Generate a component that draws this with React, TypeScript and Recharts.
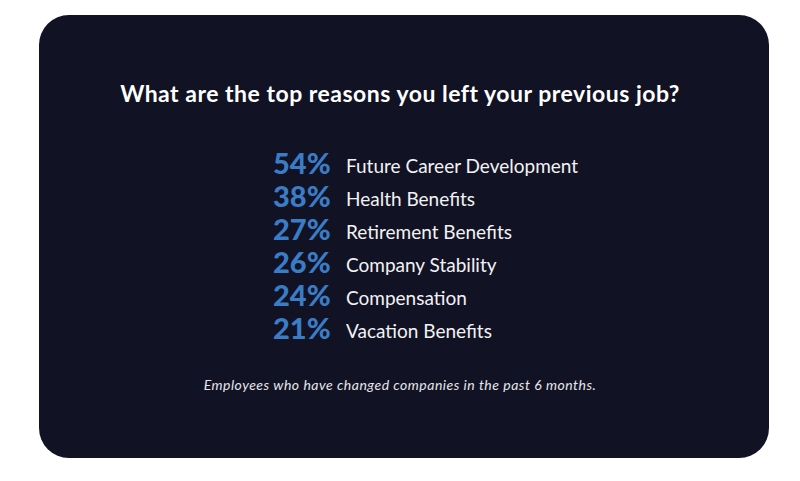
import { BarChart, Bar, XAxis, YAxis } from 'recharts';

const reasons = [
    'Future Career Development',
    'Health Benefits',
    'Retirement Benefits',
    'Company Stability',
    'Compensation',
    'Vacation Benefits',
];
const shares = [54, 38, 27, 26, 24, 21];

const data = reasons.map((name, i) => ({ name, value: shares[i] }));
const shareByName: Record<string, number> = Object.fromEntries(data.map(d => [d.name, d.value]));

const FONT = 'Lato, "Open Sans", sans-serif';

// Percentage + label drawn at the row the category axis places it on
function ReasonTick(props: any) {
    const { y, payload } = props;
    const pct = shareByName[payload.value];
    return (
        <g>
            <text x={273} y={y + 10} fill="#3a7cc6" fontFamily={FONT} fontWeight={900} fontSize={29}>
                {pct}%
            </text>
            <text x={346} y={y + 8.5} fill="#f2f2f4" fontFamily={FONT} fontSize={19}>
                {payload.value}
            </text>
        </g>
    );
}

export default function App() {
    return (
        <div style={{ position: 'absolute', left: 0, top: 0, width: 800, height: 481, background: '#ffffff' }}>
            {/* card */}
            <div
                style={{
                    position: 'absolute',
                    left: 39,
                    top: 15,
                    width: 730,
                    height: 443,
                    borderRadius: 30,
                    background: '#111224',
                }}
            />
            <div
                style={{
                    position: 'absolute',
                    left: 0,
                    top: 78,
                    width: 800,
                    textAlign: 'center',
                    color: '#ffffff',
                    fontFamily: FONT,
                    fontWeight: 700,
                    fontSize: 23,
                    letterSpacing: 0.5,
                    lineHeight: '30px',
                }}
            >
                What are the top reasons you left your previous job?
            </div>
            <div style={{ position: 'absolute', left: 0, top: 0 }}>
                <BarChart
                    width={800}
                    height={481}
                    data={data}
                    layout="vertical"
                    margin={{ top: 147.5, bottom: 135.5, left: 0, right: 0 }}
                >
                    <XAxis type="number" hide domain={[0, 100]} />
                    <YAxis
                        type="category"
                        dataKey="name"
                        width={1}
                        axisLine={false}
                        tickLine={false}
                        tick={<ReasonTick />}
                        interval={0}
                    />
                    <Bar dataKey="value" fill="none" isAnimationActive={false} />
                </BarChart>
            </div>
            <div
                style={{
                    position: 'absolute',
                    left: 0,
                    top: 376,
                    width: 800,
                    textAlign: 'center',
                    color: '#e6e6ea',
                    fontFamily: FONT,
                    fontStyle: 'italic',
                    fontSize: 14,
                    letterSpacing: 0.5,
                    lineHeight: '18px',
                }}
            >
                Employees who have changed companies in the past 6 months.
            </div>
        </div>
    );
}
